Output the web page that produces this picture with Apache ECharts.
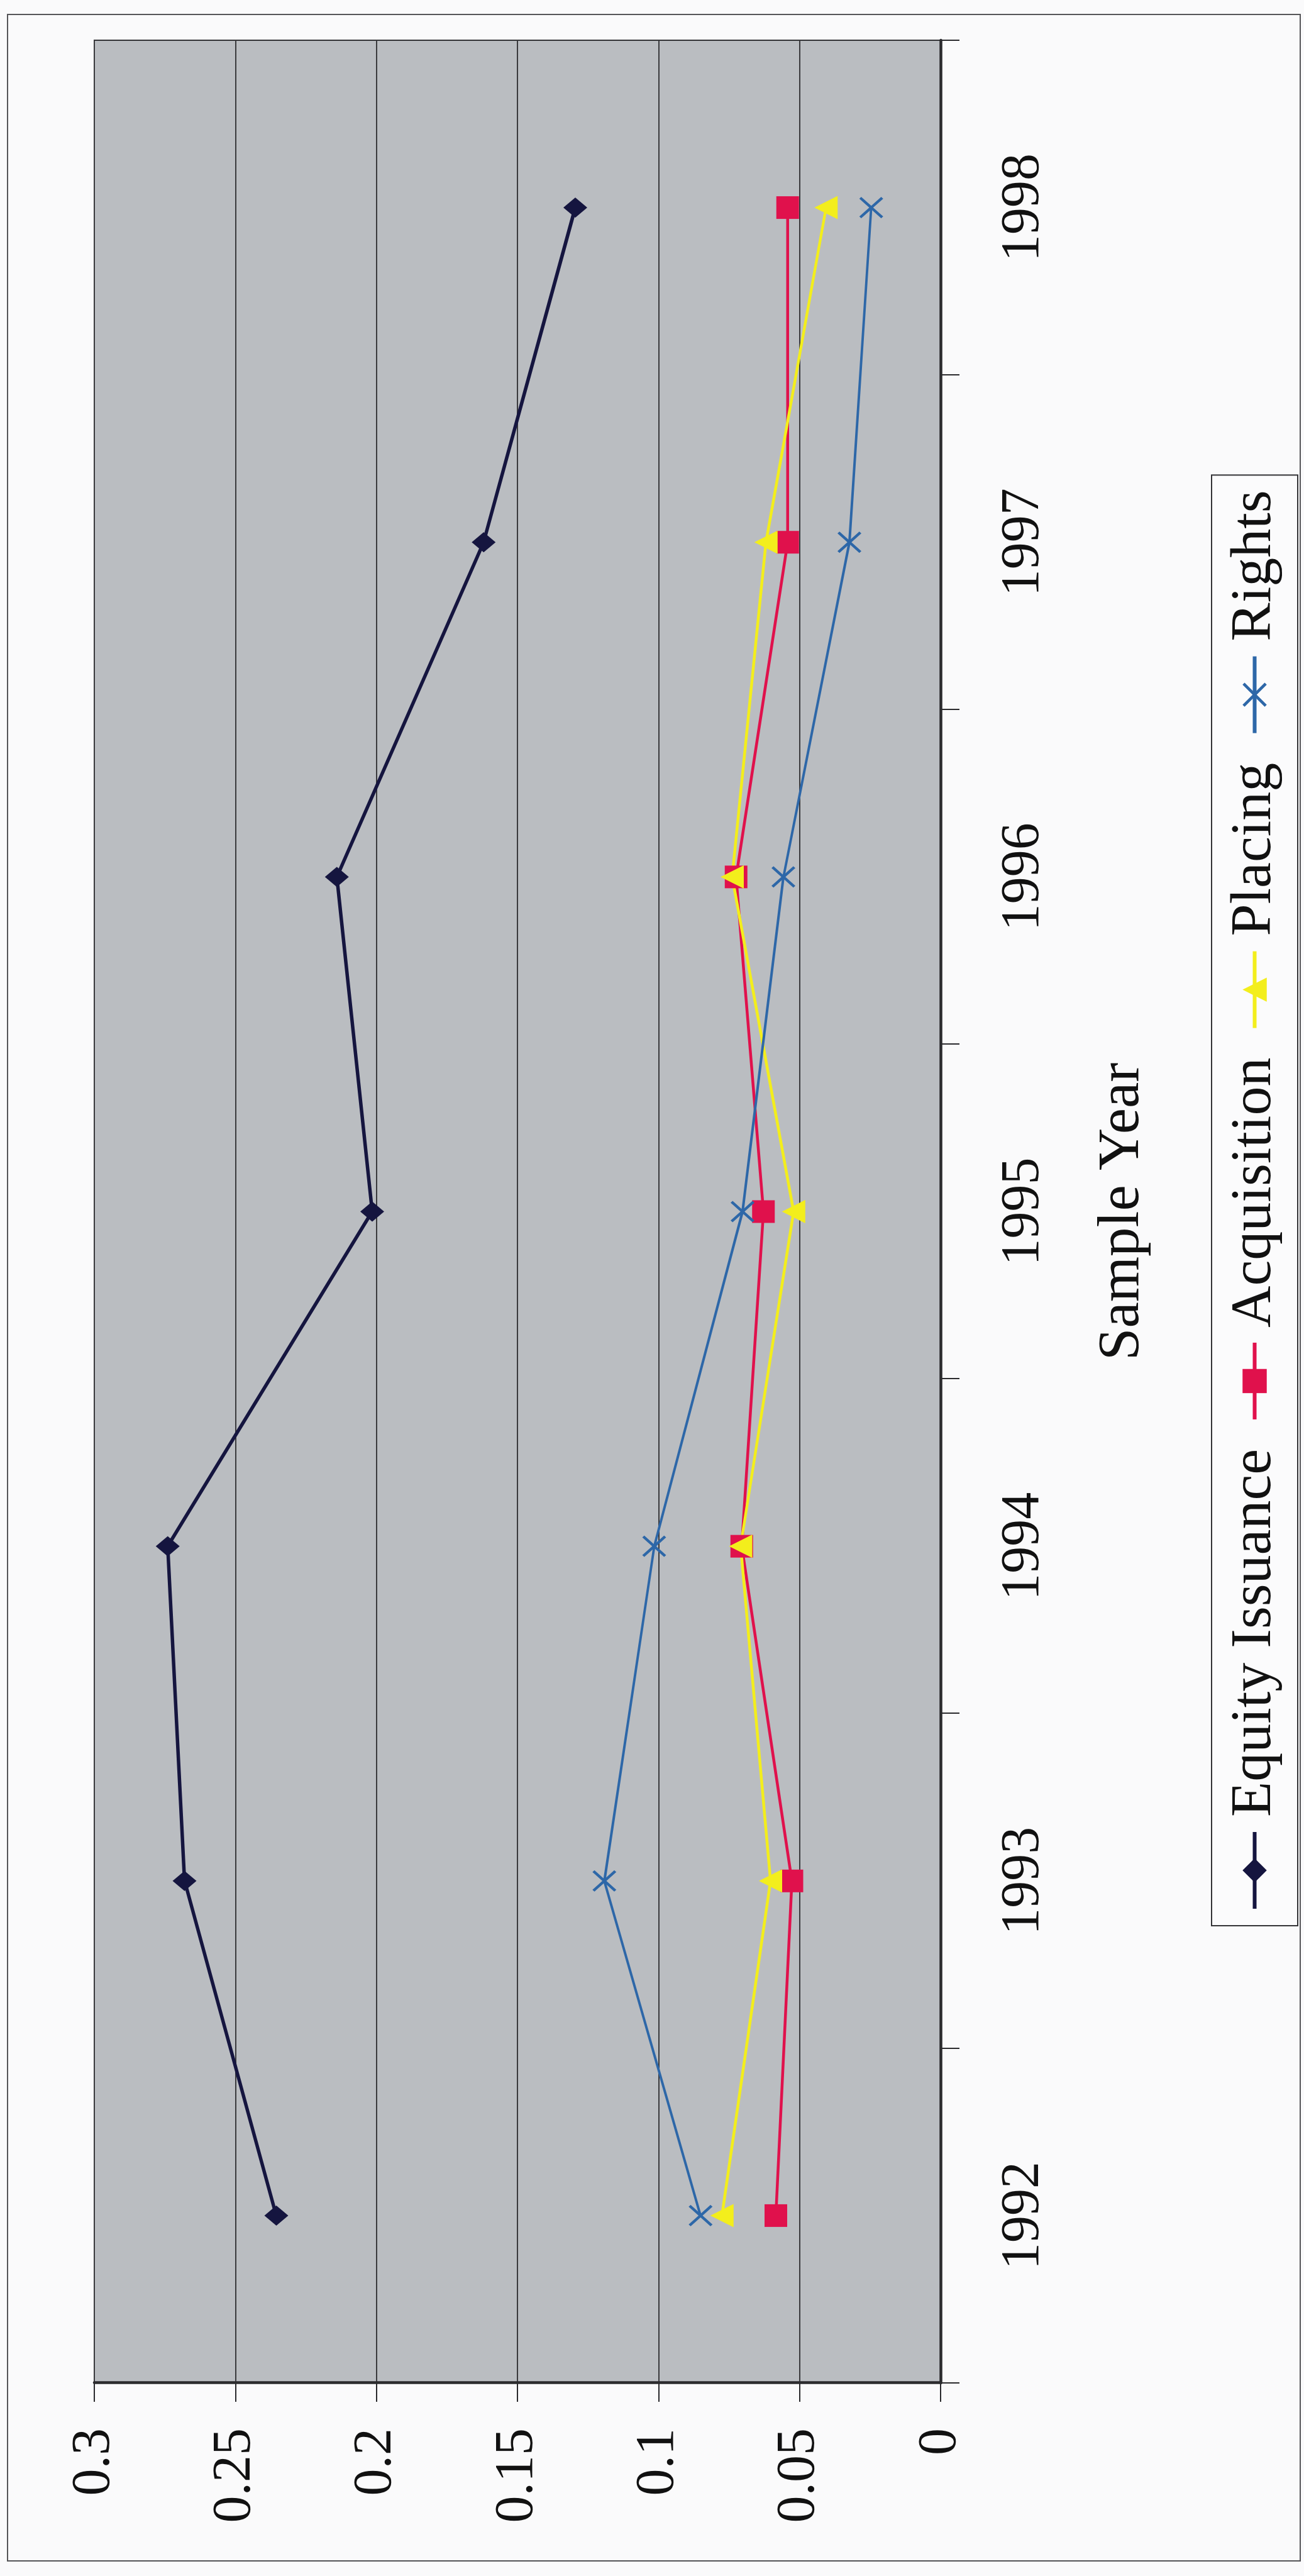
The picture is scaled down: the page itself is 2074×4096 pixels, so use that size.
<!DOCTYPE html>
<html>
<head>
<meta charset="utf-8">
<script src="https://cdn.jsdelivr.net/npm/echarts@6/dist/echarts.min.js"></script>
<style>
  html, body { margin: 0; padding: 0; width: 2074px; height: 4096px; overflow: hidden; background: #fafafb; }
  /* The chart is laid out in landscape and turned a quarter turn so it reads bottom-to-top on the page */
  #chart {
    position: absolute; left: 0; top: 0;
    width: 4096px; height: 2074px;
    transform-origin: 0 0;
    transform: translate(0, 4096px) rotate(-90deg);
  }
</style>
</head>
<body>
<div id="chart"></div>
<script>
// Sample years on the category axis
const years = ['1992', '1993', '1994', '1995', '1996', '1997', '1998'];

// Value axis tick labels (step 0.05)
const valueTickLabels = ['0', '0.05', '0.1', '0.15', '0.2', '0.25', '0.3'];

// Series values per year
const equityIssuance = [0.2355, 0.268, 0.274, 0.2015, 0.214, 0.162, 0.1295];
const acquisition    = [0.0584, 0.0527, 0.0705, 0.0628, 0.0725, 0.0542, 0.0542];
const placing        = [0.0775, 0.0603, 0.0709, 0.0521, 0.0739, 0.0619, 0.0406];
const rights         = [0.0851, 0.1192, 0.1015, 0.0702, 0.0557, 0.0323, 0.0246];

const FONT = '"Liberation Serif", "Times New Roman", serif';
const CROSS = 'path://M0,0.85L0.85,0L5,4.15L9.15,0L10,0.85L5.85,5L10,9.15L9.15,10L5,5.85L0.85,10L0,9.15L4.15,5Z';

const chart = echarts.init(document.getElementById('chart'), null, { renderer: 'canvas' });

function lineSeries(name, data, color, symbol, size, width) {
  return {
    name: name,
    type: 'line',
    data: data,
    symbol: symbol,
    symbolSize: size,
    showAllSymbol: true,
    lineStyle: { color: color, width: width },
    itemStyle: { color: color },
    emphasis: { disabled: true },
    z: 3
  };
}

chart.setOption({
  animation: false,
  backgroundColor: '#fafafb',
  graphic: [{
    type: 'rect',
    shape: { x: 24, y: 12, width: 4049, height: 2056 },
    style: { fill: null, stroke: '#555558', lineWidth: 2 },
    silent: true,
    z: -1
  }],
  grid: {
    left: 307, right: 64, top: 150, bottom: 578,
    show: true,
    backgroundColor: '#babdc1',
    borderColor: '#333336',
    borderWidth: 2
  },
  legend: {
    left: 1034, top: 1927,
    orient: 'horizontal',
    padding: [20, 24, 20, 24],
    itemGap: 44,
    itemWidth: 122,
    itemHeight: 48,
    selectedMode: false,
    borderColor: '#333336',
    borderWidth: 2,
    backgroundColor: '#fbfbfc',
    lineStyle: { width: 6 },
    textStyle: {
      fontFamily: FONT, fontSize: 92, color: '#111', lineHeight: 97,
      padding: [0, 0, 0, 19]
    },
    data: ['Equity Issuance', 'Acquisition', 'Placing', 'Rights']
  },
  xAxis: {
    type: 'category',
    data: years,
    boundaryGap: true,
    name: 'Sample Year',
    nameLocation: 'middle',
    nameGap: 243,
    nameTextStyle: { fontFamily: FONT, fontSize: 93, color: '#111', lineHeight: 93 },
    axisLine: { show: true, lineStyle: { color: '#2a2a2d', width: 4.5 } },
    axisTick: { show: true, inside: false, length: 30, lineStyle: { color: '#2a2a2d', width: 2 } },
    axisLabel: { fontFamily: FONT, fontSize: 86, color: '#111', margin: 89, lineHeight: 86 },
    splitLine: { show: false }
  },
  yAxis: {
    type: 'value',
    min: 0, max: 0.3, interval: 0.05,
    axisLine: { show: true, lineStyle: { color: '#2a2a2d', width: 4.5 } },
    axisTick: { show: true, inside: false, length: 30, lineStyle: { color: '#2a2a2d', width: 2 } },
    axisLabel: {
      fontFamily: FONT, fontSize: 86, color: '#111', margin: 72,
      formatter: function (v) { return valueTickLabels[Math.round(v / 0.05)]; }
    },
    splitLine: { show: true, lineStyle: { color: '#3a3a3d', width: 2 } }
  },
  series: [
    lineSeries('Equity Issuance', equityIssuance, '#15153f', 'diamond', [32, 38], 5.5),
    lineSeries('Acquisition', acquisition, '#e0114c', 'rect', 36, 4.5),
    lineSeries('Placing', placing, '#f3ee1c', 'triangle', 37, 4.5),
    lineSeries('Rights', rights, '#2d67a8', CROSS, [34, 38], 4)
  ]
});
</script>
</body>
</html>
